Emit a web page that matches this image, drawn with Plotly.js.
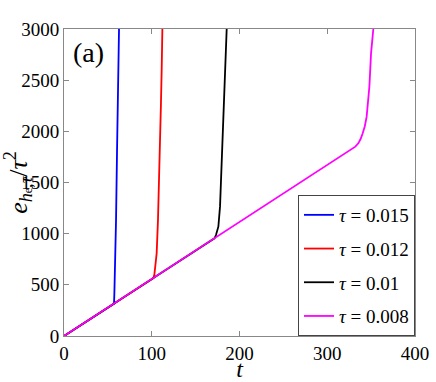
<!DOCTYPE html>
<html><head><meta charset="utf-8">
<script src="https://cdn.plot.ly/plotly-3.0.1.min.js"></script>
<style>#c text{font-family:"Liberation Serif",serif !important}</style>
</head><body style="margin:0;background:#fff"><div id="c" style="width:436px;height:382px"></div>
<script>
const tauLabels = ["0.015", "0.012", "0.01", "0.008"];
const colors = ["#0000ff", "#ff0000", "#000000", "#ff00ff"];
const t015 = [0, 57.0, 57.4, 58.1, 59.3, 60.4, 61.5, 62.7];
const e015 = [0, 316, 417, 645, 1133, 1785, 2436, 3000];
const t012 = [0, 101.8, 103.0, 104.1, 105.6, 107.1, 108.3, 109.4, 110.5, 111.3, 112.1];
const e012 = [0, 565, 600, 677, 808, 1133, 1459, 1850, 2274, 2599, 3000];
const t010 = [0, 169.4, 171.5, 173.2, 175.9, 177.8, 179.3, 180.8, 182.3, 183.8, 185.4];
const e010 = [0, 940, 955, 987, 1068, 1264, 1622, 1948, 2274, 2599, 3000];
const t008 = [0, 320, 327.8, 332, 335.4, 338, 340.4, 342.8, 344.9, 346.6, 348, 349.9, 352.5];
const e008 = [0, 1776, 1819, 1850, 1883, 1925, 1981, 2050, 2143, 2280, 2436, 2762, 3000];
const xTicks = [0, 100, 200, 300, 400];
const yTicks = [0, 500, 1000, 1500, 2000, 2500, 3000];

const ts = [t015, t012, t010, t008];
const es = [e015, e012, e010, e008];
const fam = 'Liberation Serif';
const data = ts.map((t, i) => ({
  x: t, y: es[i], type: 'scatter', mode: 'lines',
  line: {color: colors[i], width: 1.8},
  name: '<i>τ</i> = ' + tauLabels[i], legendgroup: 'g' + i
}));
function axis(range, ticks, titleText, titleSize, standoff) {
  return {
    range: range, tickvals: ticks, ticktext: ticks.map(String),
    showgrid: false, zeroline: false, showline: true, mirror: 'ticks',
    linecolor: '#888', linewidth: 1, ticks: 'inside', ticklen: 5, tickcolor: '#888',
    tickfont: {family: fam, size: 19, color: '#000'},
    title: {text: titleText, font: {family: fam, size: titleSize, color: '#000'}, standoff: standoff}
  };
}
const layout = {
  width: 436, height: 382,
  margin: {l: 64, r: 21, t: 29, b: 46},
  paper_bgcolor: '#fff', plot_bgcolor: '#fff',
  font: {family: fam, size: 19, color: '#000'}, showlegend: true,
  xaxis: axis([0, 400], xTicks, '<i>t</i>', 24, 2),
  yaxis: axis([0, 3000], yTicks,
    '<i>e</i><sub><i>h</i><span style="font-size:12px">e</span>,<i>τ</i></sub>/<i>τ</i><sup>2</sup>', 26, 0),
  legend: {x: 1, xanchor: 'right', y: 0, yanchor: 'bottom', bordercolor: '#444', borderwidth: 1,
    bgcolor: '#fff', font: {family: fam, size: 19, color: '#000'}, tracegroupgap: 6},
  annotations: [{text: '(a)', xref: 'paper', yref: 'paper', x: 0.02, y: 0.98, xanchor: 'left', yanchor: 'top',
    showarrow: false, font: {family: fam, size: 28, color: '#000'}}]
};
Plotly.newPlot('c', data, layout, {displayModeBar: false}).then(gd => {
  gd.querySelectorAll('text').forEach(t => { t.style.fontFamily = '"Liberation Serif", serif'; });
});
</script></body></html>
